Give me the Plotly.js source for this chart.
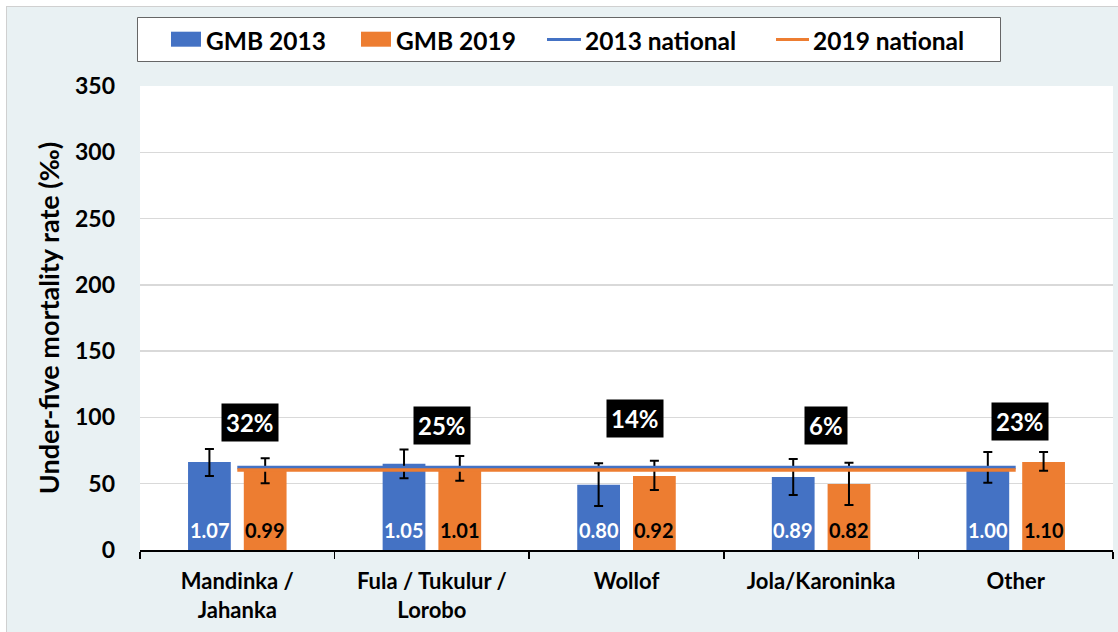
<!DOCTYPE html>
<html><head><meta charset="utf-8">
<script src="https://cdn.plot.ly/plotly-3.0.1.min.js"></script>
<style>
html,body{margin:0;padding:0;background:#fff;overflow:hidden;width:1118px;height:632px;}
#wrap{position:absolute;left:6px;top:6px;border-left:1px solid #d0d0d0;border-top:1px solid #d0d0d0;}
#chart{width:1111px;height:625px;}
</style></head><body><div id="wrap"><div id="chart"></div></div>
<script>
const categories = ['Mandinka /<br>Jahanka','Fula / Tukulur /<br>Lorobo','Wollof','Jola/Karoninka','Other'];
const seriesNames = ['GMB 2013','GMB 2019','2013 national','2019 national'];
const gmb2013 = [66.4, 65.0, 49.3, 55.0, 62.0];
const gmb2019 = [60.0, 61.2, 55.8, 49.8, 66.4];
const ci2013Low = [55.8, 54.1, 33.2, 41.5, 50.8];
const ci2013High = [76.2, 75.9, 65.4, 68.6, 73.9];
const ci2019Low = [50.3, 52.3, 45.2, 33.9, 59.8];
const ci2019High = [69.2, 70.9, 67.4, 65.9, 73.9];
const national2013 = 62.3;
const national2019 = 60.3;
const ratio2013 = ['1.07','1.05','0.80','0.89','1.00'];
const ratio2019 = ['0.99','1.01','0.92','0.82','1.10'];
const shareLabels = ['32%','25%','14%','6%','23%'];
const yTicks = [0,50,100,150,200,250,300,350];

const BLUE = '#4472c4', ORANGE = '#ed7d31';
const FONT = 'Lato, "Open Sans", sans-serif';

// page-pixel -> paper coords (plot area: x 140..1113, y 86..550 on the page)
const px2x = p => (p - 140) / 973;
const py2y = p => (550 - p) / 464;

const traces = [
  {type:'bar', name:seriesNames[0], x:categories, y:gmb2013, marker:{color:BLUE},
   error_y:{type:'data', symmetric:false, array:gmb2013.map((v,i)=>ci2013High[i]-v),
            arrayminus:gmb2013.map((v,i)=>v-ci2013Low[i]), color:'#000', thickness:2, width:4.5},
   hoverinfo:'skip'},
  {type:'bar', name:seriesNames[1], x:categories, y:gmb2019, marker:{color:ORANGE},
   error_y:{type:'data', symmetric:false, array:gmb2019.map((v,i)=>ci2019High[i]-v),
            arrayminus:gmb2019.map((v,i)=>v-ci2019Low[i]), color:'#000', thickness:2, width:4.5},
   hoverinfo:'skip'},
  {type:'scatter', mode:'lines', name:seriesNames[2], x:categories, y:categories.map(()=>national2013),
   line:{color:BLUE, width:3.5}, hoverinfo:'skip'},
  {type:'scatter', mode:'lines', name:seriesNames[3], x:categories, y:categories.map(()=>national2019),
   line:{color:ORANGE, width:3.5}, hoverinfo:'skip'}
];

const annotations = [];
const shapes = [];
// ratio labels inside bars
categories.forEach((c,i)=>{
  annotations.push({x:c, y:0, xref:'x', yref:'y', text:ratio2013[i], showarrow:false,
    xshift:-27.8, yanchor:'bottom', yshift:6, font:{family:FONT, size:20, color:'#fff', weight:700}});
  annotations.push({x:c, y:0, xref:'x', yref:'y', text:ratio2019[i], showarrow:false,
    xshift:27.8, yanchor:'bottom', yshift:6, font:{family:FONT, size:20, color:'#000', weight:700}});
});
// share labels
const shareY = [96.5, 93.9, 99.2, 93.9, 96.9];
const shareDx = [13, 10, 8, 5, 4];
categories.forEach((c,i)=>{
  annotations.push({x:c, y:shareY[i], xref:'x', yref:'y', text:shareLabels[i], showarrow:false,
    xshift:shareDx[i], yanchor:'middle', bgcolor:'#000', borderpad:4,
    font:{family:FONT, size:24, color:'#fff', weight:700}});
});
// custom legend
shapes.push({type:'rect', xref:'paper', yref:'paper', x0:px2x(137.5), x1:px2x(1000.5), y0:py2y(61.5), y1:py2y(17.5),
  fillcolor:'#fff', line:{color:'#666', width:1}});
shapes.push({type:'rect', xref:'paper', yref:'paper', x0:px2x(171), x1:px2x(201), y0:py2y(46.7), y1:py2y(31.7),
  fillcolor:BLUE, line:{width:0}});
shapes.push({type:'rect', xref:'paper', yref:'paper', x0:px2x(361), x1:px2x(391), y0:py2y(46.7), y1:py2y(31.7),
  fillcolor:ORANGE, line:{width:0}});
shapes.push({type:'line', xref:'paper', yref:'paper', x0:px2x(547), x1:px2x(581), y0:py2y(39.5), y1:py2y(39.5),
  line:{color:BLUE, width:3}});
shapes.push({type:'line', xref:'paper', yref:'paper', x0:px2x(776), x1:px2x(809), y0:py2y(39.5), y1:py2y(39.5),
  line:{color:ORANGE, width:3}});
const legX = [204, 394, 583, 811];
seriesNames.forEach((n,i)=>{
  annotations.push({xref:'paper', yref:'paper', x:px2x(legX[i]), y:py2y(40), xanchor:'left', yanchor:'middle',
    text:n, showarrow:false, font:{family:FONT, size:24.5, color:'#000', weight:700}});
});

const layout = {
  width:1111, height:625,
  margin:{l:133, r:5, t:79, b:82},
  paper_bgcolor:'#e9f1f3', plot_bgcolor:'#fff',
  font:{family:FONT, color:'#000', weight:700},
  barmode:'group', bargap:0.427, bargroupgap:0.233,
  showlegend:false,
  xaxis:{type:'category', range:[-0.5,4.5], showline:true, linecolor:'#000', linewidth:2,
    ticks:'outside', tickson:'boundaries', ticklen:7, tickwidth:1.5, tickcolor:'#000',
    tickfont:{family:FONT, size:22, color:'#000', weight:700}, showgrid:false, fixedrange:true,
    ticklabelstandoff:11},
  yaxis:{range:[0,350], tickvals:yTicks, showgrid:true, gridcolor:'#d9d9d9', gridwidth:1.5,
    zeroline:false, showline:false, ticks:'', ticklabelstandoff:24, fixedrange:true,
    tickfont:{family:FONT, size:23, color:'#000', weight:700},
    title:{text:'Under-five mortality rate (‰)', font:{family:FONT, size:27, color:'#000', weight:700}, standoff:7}},
  annotations, shapes
};
Plotly.newPlot('chart', traces, layout, {displayModeBar:false, staticPlot:true});
</script></body></html>
